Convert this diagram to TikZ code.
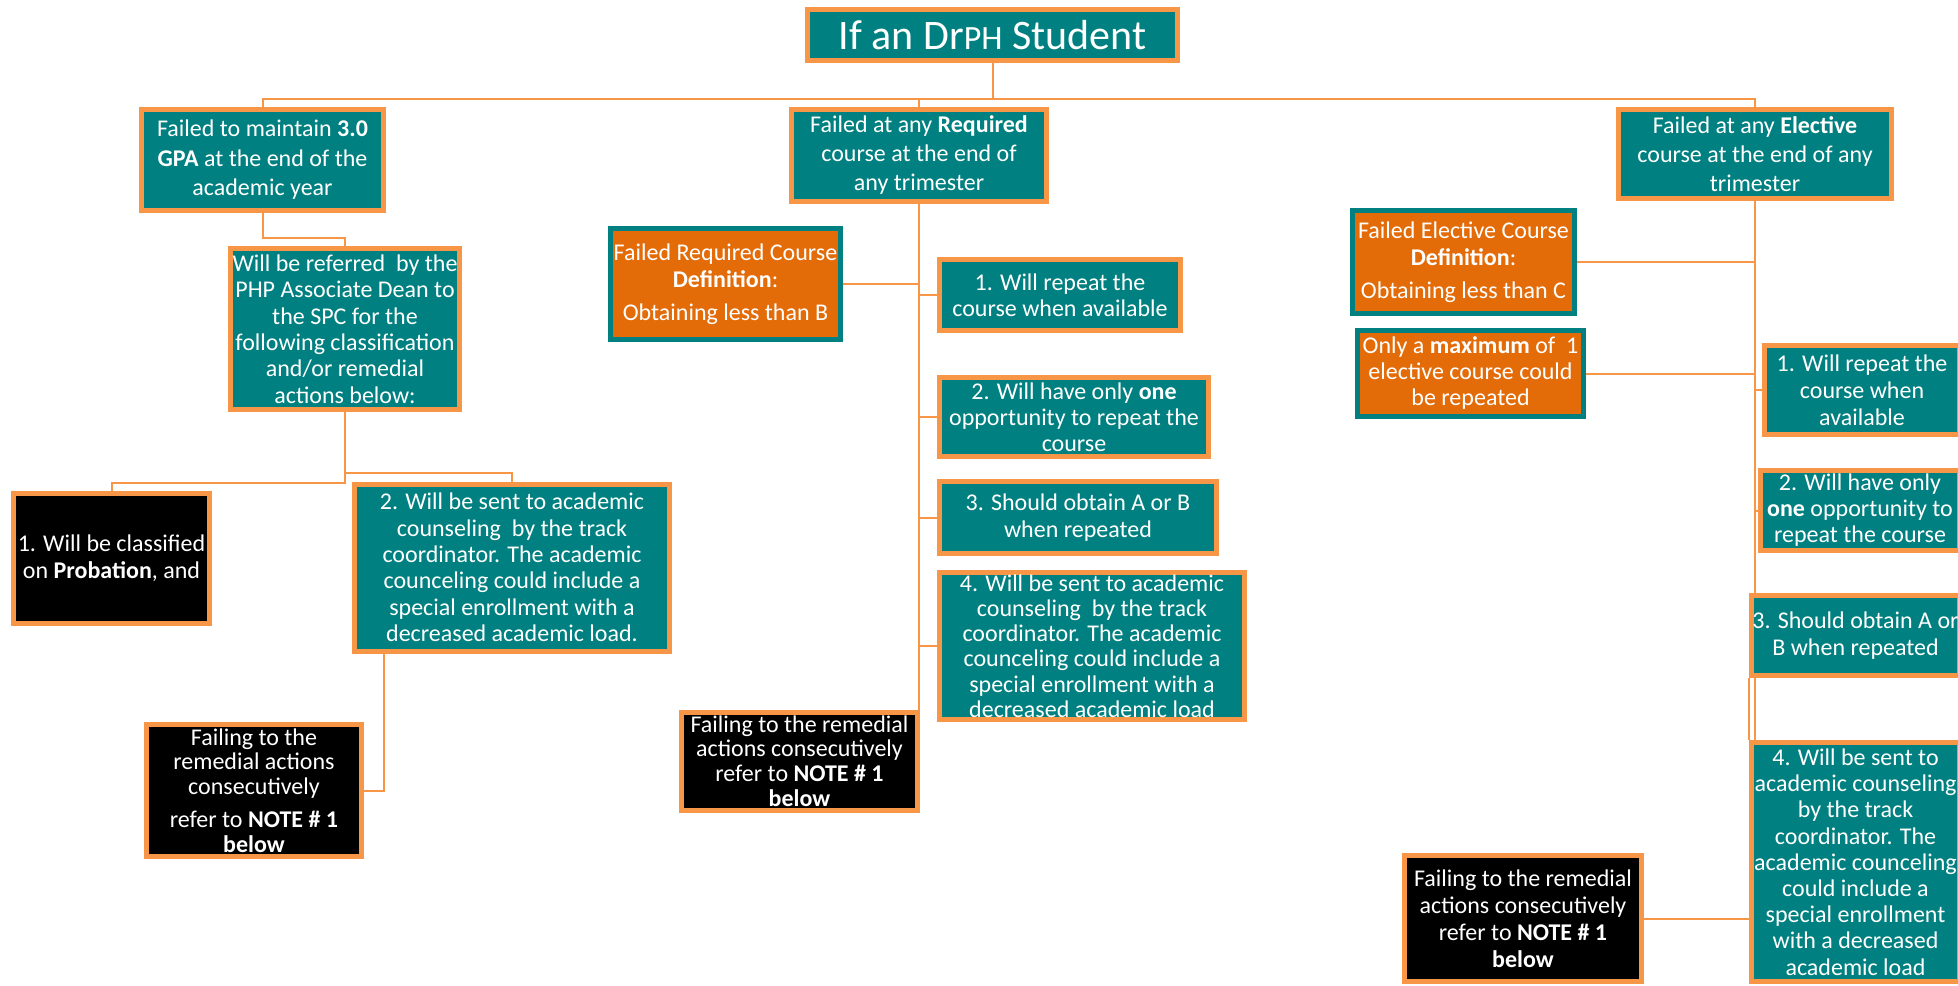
\documentclass[tikz,border=0pt]{standalone}
\usepackage{fontspec}
\setmainfont{Carlito}
\usepackage{xcolor}
\usetikzlibrary{backgrounds}
\definecolor{tealfill}{HTML}{008080}
\definecolor{ornline}{HTML}{F79646}
\definecolor{deforange}{HTML}{E36C09}

\begin{document}
\begin{tikzpicture}[x=0.5pt, y=-0.5pt,
      every node/.style={align=center, text=white, font=\fontsize{12}{13.5}\selectfont},
      tealbox/.style={draw=ornline, line width=2.5pt, fill=tealfill, inner sep=0pt},
      blackbox/.style={tealbox, fill=black},
      defbox/.style={draw=tealfill, line width=2.5pt, fill=deforange, inner sep=0pt},
      link/.style={draw=ornline, line width=1pt}]

    \useasboundingbox (0,0) rectangle (1958,985);

    % top level
    \node[tealbox, minimum width=185pt, minimum height=25.5pt, font=\fontsize{21}{25}\selectfont] (title) at (992.5,35) {If an Dr{\fontsize{17}{20}\selectfont PH} Student};
    \node[tealbox, minimum width=121pt, minimum height=50.5pt, font=\fontsize{12}{14.75}\selectfont] (gpa) at (262.5,160) {Failed to maintain \textbf{3.0}\\ \textbf{GPA} at the end of the\\ academic year};
    \node[tealbox, minimum width=127.5pt, minimum height=46pt, font=\fontsize{12}{14.5}\selectfont] (required) at (919,155.5) {Failed at any \textbf{Required}\\ course at the end of\\ any trimester};
    \node[tealbox, minimum width=136.5pt, minimum height=44.5pt, font=\fontsize{12}{14.5}\selectfont] (elective) at (1755,154) {Failed at any \textbf{Elective}\\ course at the end of any\\ trimester};

    % GPA branch
    \node[tealbox, minimum width=114.5pt, minimum height=80.5pt, font=\fontsize{12}{13.2}\selectfont] (refer) at (345,329) {Will be referred~ by the\\ PHP Associate Dean to\\ the SPC for the\\ following classification\\ and/or remedial\\ actions below:};
    \node[blackbox, minimum width=98pt, minimum height=65pt] (probation) at (111.5,558.5) {1. Will be classified\\ on \textbf{Probation}, and};
    \node[tealbox, minimum width=157.5pt, minimum height=83.5pt, font=\fontsize{12}{13.2}\selectfont] (counsel) at (512,567.5) {2. Will be sent to academic\\ counseling~ by the track\\ coordinator. The academic\\ counceling could include a\\ special enrollment with a\\ decreased academic load.};
    \node[blackbox, minimum width=107.5pt, minimum height=66pt, font=\fontsize{12}{12.4}\selectfont] (failgpa) at (254,790.5) {Failing to the\\ remedial actions\\ consecutively\\[4pt] refer to \textbf{NOTE \# 1}\\ \textbf{below}};

    % required branch
    \node[defbox, minimum width=115pt, minimum height=55.5pt] (defreq) at (725.5,284) {Failed Required Course\\ \textbf{Definition}:\\[3pt] Obtaining less than B};
    \node[tealbox, minimum width=120.5pt, minimum height=35.5pt, font=\fontsize{12}{13}\selectfont] (req1) at (1060,295) {1. Will repeat the\\ course when available};
    \node[tealbox, minimum width=134.5pt, minimum height=39.5pt, font=\fontsize{12}{13}\selectfont] (req2) at (1074,417) {2. Will have only \textbf{one}\\ opportunity to repeat the\\ course};
    \node[tealbox, minimum width=138.5pt, minimum height=36pt] (req3) at (1078,517.5) {3. Should obtain A or B\\ when repeated};
    \node[tealbox, minimum width=152.5pt, minimum height=73.5pt, font=\fontsize{12}{12.6}\selectfont] (req4) at (1092,646) {4. Will be sent to academic\\ counseling~ by the track\\ coordinator. The academic\\ counceling could include a\\ special enrollment with a\\ decreased academic load};
    \node[blackbox, minimum width=118pt, minimum height=49pt, font=\fontsize{12}{12.4}\selectfont] (failreq) at (799.5,761) {Failing to the remedial\\ actions consecutively\\ refer to \textbf{NOTE \# 1}\\ \textbf{below}};

    % elective branch
    \node[defbox, minimum width=111pt, minimum height=51.5pt] (defelec) at (1463.5,262) {Failed Elective Course\\ \textbf{Definition}:\\[3pt] Obtaining less than C};
    \node[defbox, minimum width=113pt, minimum height=43pt, font=\fontsize{12}{13}\selectfont] (maxelec) at (1470.5,373.5) {Only a \textbf{maximum} of~ 1\\ elective course could\\ be repeated};
    \node[tealbox, minimum width=97.5pt, minimum height=44.5pt] (elec1) at (1862,390) {1. Will repeat the\\ course when\\ available};
    \node[tealbox, minimum width=99.5pt, minimum height=40pt, font=\fontsize{12}{13}\selectfont] (elec2) at (1860,510.5) {2. Will have only\\ \textbf{one} opportunity to\\ repeat the course};
    \node[tealbox, minimum width=104pt, minimum height=40pt] (elec3) at (1855.5,635.5) {3. Should obtain A or\\ B when repeated};
    \node[tealbox, minimum width=104pt, minimum height=119.5pt, font=\fontsize{12}{13.1}\selectfont] (elec4) at (1855.5,862) {4. Will be sent to\\ academic counseling\\ by the track\\ coordinator. The\\ academic counceling\\ could include a\\ special enrollment\\ with a decreased\\ academic load};
    \node[blackbox, minimum width=118.5pt, minimum height=63pt] (failelec) at (1523,918.5) {Failing to the remedial\\ actions consecutively\\ refer to \textbf{NOTE \# 1}\\ \textbf{below}};

    \begin{scope}[on background layer]
      \draw[link] (title.south) -- (title.south |- 0,99);
      \draw[link] (gpa.north) -- (gpa.north |- 0,99) -- (elective.north |- 0,99) -- (elective.north);
      \draw[link] (required.north) -- (required.north |- 0,99);

      \draw[link] (gpa.south) -- (gpa.south |- 0,238) -| (refer.north);
      \draw[link] (refer.south) -- (refer.south |- 0,483) -| (probation.north);
      \draw[link] (refer.south |- 0,473) -| (counsel.north);
      \draw[link] ([xshift=16pt]counsel.south west) |- (failgpa.east);

      \draw[link] (required.south) -- (required.south |- failreq.north);
      \draw[link] (defreq.east) -- (defreq.east -| required.south);
      \draw[link] (req1.west) -- (req1.west -| required.south);
      \draw[link] (req2.west) -- (req2.west -| required.south);
      \draw[link] (req3.west) -- (req3.west -| required.south);
      \draw[link] (req4.west) -- (req4.west -| required.south);

      \draw[link] (elective.south) -- (elective.south |- elec4.north);
      \draw[link] (elec3.south west) -- (elec4.north west);
      \draw[link] (defelec.east) -- (defelec.east -| elective.south);
      \draw[link] (maxelec.east) -- (maxelec.east -| elective.south);
      \draw[link] (elec1.west) -- (elec1.west -| elective.south);
      \draw[link] (elec2.west) -- (elec2.west -| elective.south);
      \draw[link] (failelec.east) -- (failelec.east -| elec4.west);
    \end{scope}
  \end{tikzpicture}
\end{document}
